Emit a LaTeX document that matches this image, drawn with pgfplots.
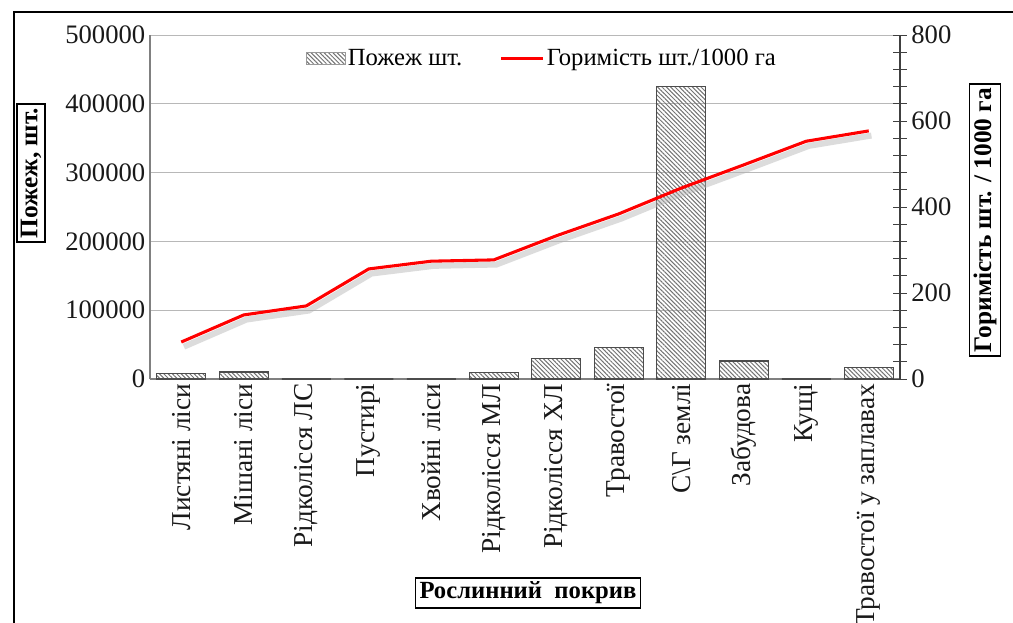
\documentclass[border=0pt]{standalone}
\usepackage{fontspec}
\setmainfont{Liberation Serif}
\usepackage{pgfplots}
\pgfplotsset{compat=1.18}
\usetikzlibrary{patterns.meta}

\begin{document}
\begin{tikzpicture}[x=1pt,y=1pt]
\useasboundingbox (-112.5,-182.25) rectangle (647.25,284.25);
\draw[black, line width=0.9pt] (-102,-190) -- (-102,275.25) -- (660,275.25);

\begin{axis}[
  scale only axis, width=562.5pt, height=258pt,
  xmin=-0.5, xmax=11.5, ymin=0, ymax=500000,
  axis y line*=left, axis x line*=bottom,
  axis line style={draw=black!50, line width=0.8pt},
  ytick={0,100000,200000,300000,400000,500000},
  scaled y ticks=false,
  yticklabel style={/pgf/number format/fixed, /pgf/number format/1000 sep={}, /pgf/number format/assume math mode=true, font=\fontsize{20}{23}\selectfont, text=black!90},
  ymajorgrids, grid style={draw=black!28, line width=0.7pt},
  major tick length=0pt,
  xtick={0,...,11},
  xticklabels={Листяні ліси, Мішані ліси, Рідколісся ЛС, Пустирі, Хвойні ліси, Рідколісся МЛ, Рідколісся ХЛ, Травостої, С\textbackslash Г землі, Забудова, Кущі, Травостої у заплавах},
  xticklabel style={rotate=90, anchor=east, font=\fontsize{20.5}{23}\selectfont, text=black!90},
  ylabel={Пожеж, шт.},
  ylabel style={at={(axis description cs:-0.1587,0.599)}, anchor=center, draw=black, line width=1.2pt, font=\bfseries\fontsize{19}{22}\selectfont, inner sep=3pt},
  xlabel={Рослинний\ \ покрив},
  xlabel style={at={(axis description cs:0.504,-0.622)}, anchor=center, draw=black, line width=1.2pt, font=\bfseries\fontsize{18.5}{22}\selectfont, inner sep=3pt},
  clip=false,
]
\addplot[ybar, bar width=36.75pt, draw=black!70, line width=0.9pt, pattern={Lines[angle=-45, distance=2.3pt, line width=0.75pt]}, pattern color=black!55] coordinates {
(0,8200) (1,10200) (2,0) (3,0) (4,0) (5,10000) (6,30000) (7,45600) (8,424600) (9,26200) (10,0) (11,16900)
};
\end{axis}

\begin{axis}[
  scale only axis, width=562.5pt, height=258pt,
  xmin=-0.5, xmax=11.5, ymin=0, ymax=800,
  axis y line*=right, axis x line=none,
  axis line style={draw=black!75, line width=0.8pt},
  ytick={0,200,400,600,800},
  minor y tick num=4,
  tick align=center,
  major tick length=10pt, minor tick length=10pt,
  tick style={draw=black!75, line width=0.7pt},
  yticklabel style={/pgf/number format/assume math mode=true, font=\fontsize{20}{23}\selectfont, text=black!90},
  ylabel={Горимість шт. / 1000 га},
  ylabel style={at={(axis description cs:1.1133,0.462)}, anchor=center, rotate=0, draw=black, line width=1.2pt, font=\bfseries\fontsize{19}{22}\selectfont, inner sep=3pt},
  legend style={at={(0.523,0.975)}, anchor=north, draw=none, fill=none, font=\fontsize{18.5}{22}\selectfont, /tikz/every even column/.append style={column sep=26pt}},
  legend columns=2,
  clip=false,
]
\addlegendimage{legend image code/.code={\draw[draw=black!40, pattern={Lines[angle=-45, distance=2.3pt, line width=0.75pt]}, pattern color=black!55] (0pt,-4.5pt) rectangle (29pt,4.5pt);}}
\addlegendentry{Пожеж шт.}
\addplot[forget plot, draw=black!30, line width=4.5pt, opacity=0.45, xshift=2pt, yshift=-3.5pt] coordinates {
(0,86) (1,149) (2,170) (3,256) (4,274) (5,277) (6,333) (7,384) (8,444) (9,498) (10,553) (11,577)
};
\addplot[red, line width=2.3pt, legend image code/.code={\draw[red, line width=2.3pt] (0pt,0pt) -- (31pt,0pt);}] coordinates {
(0,86) (1,149) (2,170) (3,256) (4,274) (5,277) (6,333) (7,384) (8,444) (9,498) (10,553) (11,577)
};
\addlegendentry{Горимість шт./1000 га}
\end{axis}
\end{tikzpicture}
\end{document}
